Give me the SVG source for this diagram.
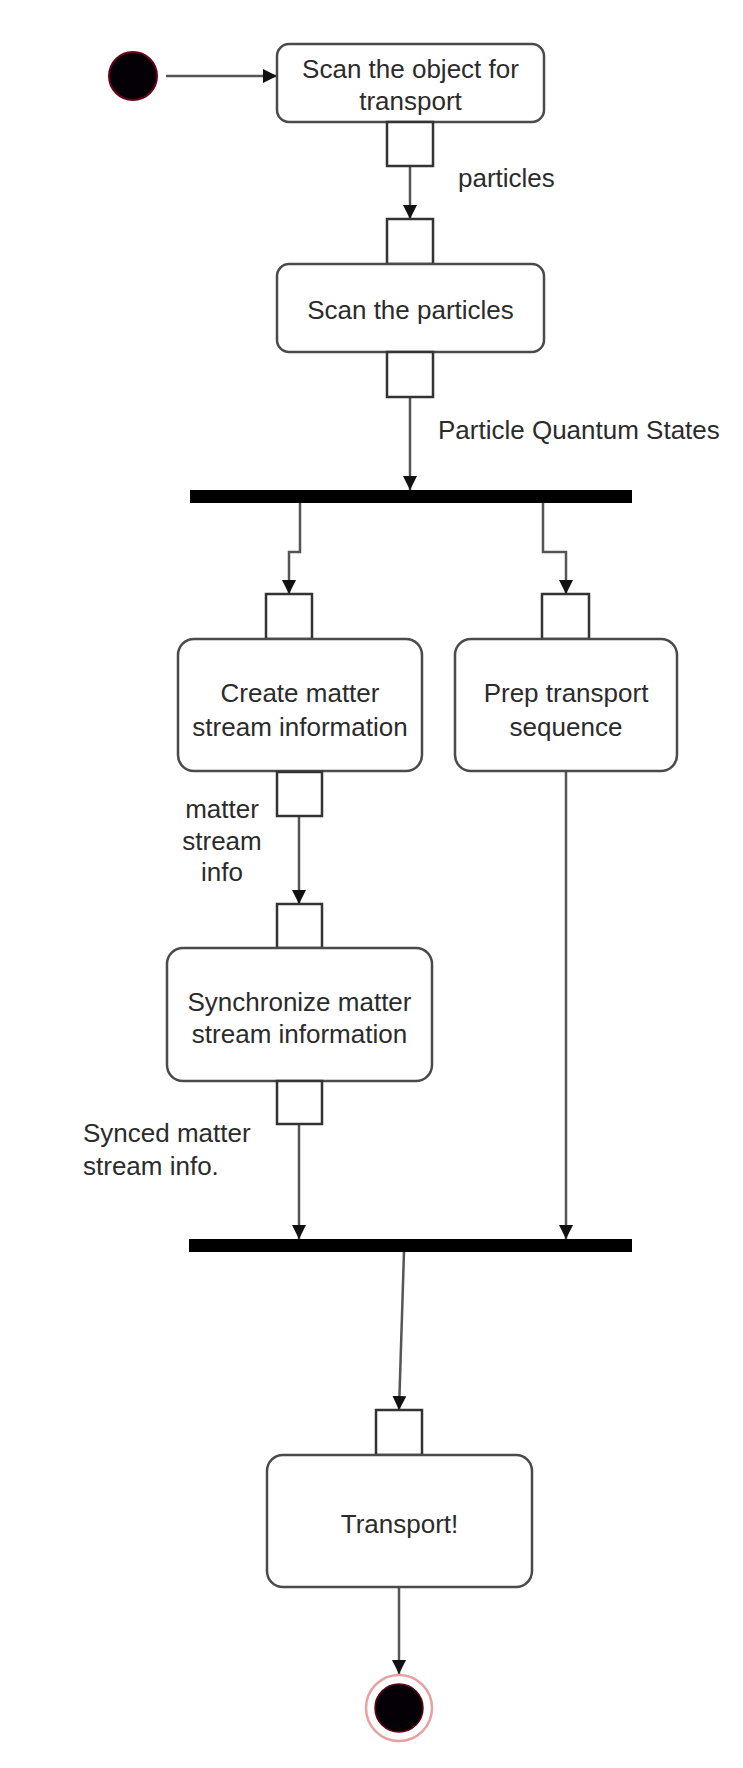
<svg xmlns="http://www.w3.org/2000/svg" width="743" height="1768" viewBox="0 0 743 1768">
<defs>
<marker id="arr" viewBox="0 0 14 14" refX="14" refY="7" markerWidth="14" markerHeight="14" markerUnits="userSpaceOnUse" orient="auto">
<path d="M0,0 L14,7 L0,14 Z" fill="#111"/>
</marker>
</defs>
<style>
.act{fill:#fff;stroke:#4a4a4a;stroke-width:2.5}
.pin{fill:#fff;stroke:#333;stroke-width:2.5}
.bar{fill:#000}
.edge{fill:none;stroke:#555;stroke-width:2.5;marker-end:url(#arr)}
text{font-family:"Liberation Sans",Arial,sans-serif;font-size:26px;fill:#2b2b2b}
.c{text-anchor:middle}
</style>
<rect width="743" height="1768" fill="#fff"/>
<g id="connectors">
<path class="edge" d="M166,76 L277,76"/>
<path class="edge" d="M410,166 L410,219"/>
<path class="edge" d="M410,397 L410,490"/>
<path class="edge" d="M300,503 L300,552 L289,552 L289,594"/>
<path class="edge" d="M543,503 L543,552 L566,552 L566,594"/>
<path class="edge" d="M299,816 L299,904"/>
<path class="edge" d="M299,1124 L299,1239"/>
<path class="edge" d="M566,771 L566,1239"/>
<path class="edge" d="M404,1252 L399,1410"/>
<path class="edge" d="M399,1587 L399,1674"/>
</g>
<g id="start">
<circle cx="133" cy="76" r="24" fill="#050005" stroke="#6a0018" stroke-width="2"/>
</g>
<g id="scanObject">
<rect class="act" x="277" y="44" width="267" height="78" rx="12"/>
<text class="c" x="410.5" y="78">Scan the object for</text>
<text class="c" x="410.5" y="110">transport</text>
</g>
<g id="pinObjOut"><rect class="pin" x="387" y="122" width="46" height="44"/></g>
<g id="labelParticles"><text x="458" y="187">particles</text></g>
<g id="pinParticlesIn"><rect class="pin" x="387" y="219" width="46" height="45"/></g>
<g id="scanParticles">
<rect class="act" x="277" y="264" width="267" height="88" rx="12"/>
<text class="c" x="410.5" y="319">Scan the particles</text>
</g>
<g id="pinParticlesOut"><rect class="pin" x="387" y="352" width="46" height="45"/></g>
<g id="labelStates"><text x="438" y="439">Particle Quantum States</text></g>
<g id="fork"><rect class="bar" x="190" y="490" width="442" height="13"/></g>
<g id="pinCreateIn"><rect class="pin" x="266" y="594" width="46" height="45"/></g>
<g id="createInfo">
<rect class="act" x="178" y="639" width="244" height="132" rx="16"/>
<text class="c" x="300" y="702">Create matter</text>
<text class="c" x="300" y="736">stream information</text>
</g>
<g id="pinPrepIn"><rect class="pin" x="542" y="594" width="47" height="45"/></g>
<g id="prepSequence">
<rect class="act" x="455" y="639" width="222" height="132" rx="16"/>
<text class="c" x="566" y="702">Prep transport</text>
<text class="c" x="566" y="736">sequence</text>
</g>
<g id="pinCreateOut"><rect class="pin" x="277" y="772" width="45" height="44"/></g>
<g id="labelStreamInfo">
<text class="c" x="222" y="818">matter</text>
<text class="c" x="222" y="850">stream</text>
<text class="c" x="222" y="881">info</text>
</g>
<g id="pinSyncIn"><rect class="pin" x="277" y="904" width="45" height="44"/></g>
<g id="syncInfo">
<rect class="act" x="167" y="948" width="265" height="133" rx="16"/>
<text class="c" x="299.5" y="1011">Synchronize matter</text>
<text class="c" x="299.5" y="1043">stream information</text>
</g>
<g id="pinSyncOut"><rect class="pin" x="277" y="1081" width="45" height="43"/></g>
<g id="labelSynced">
<text x="83" y="1142">Synced matter</text>
<text x="83" y="1175">stream info.</text>
</g>
<g id="join"><rect class="bar" x="189" y="1239" width="443" height="13"/></g>
<g id="pinTransportIn"><rect class="pin" x="376" y="1410" width="46" height="45"/></g>
<g id="transport">
<rect class="act" x="267" y="1455" width="265" height="132" rx="16"/>
<text class="c" x="399.5" y="1533">Transport!</text>
</g>
<g id="end">
<circle cx="399" cy="1708" r="33" fill="#fff" stroke="#e8a0a0" stroke-width="2.5"/>
<circle cx="399" cy="1708" r="24" fill="#050005" stroke="#6a0018" stroke-width="1.5"/>
</g>
</svg>
